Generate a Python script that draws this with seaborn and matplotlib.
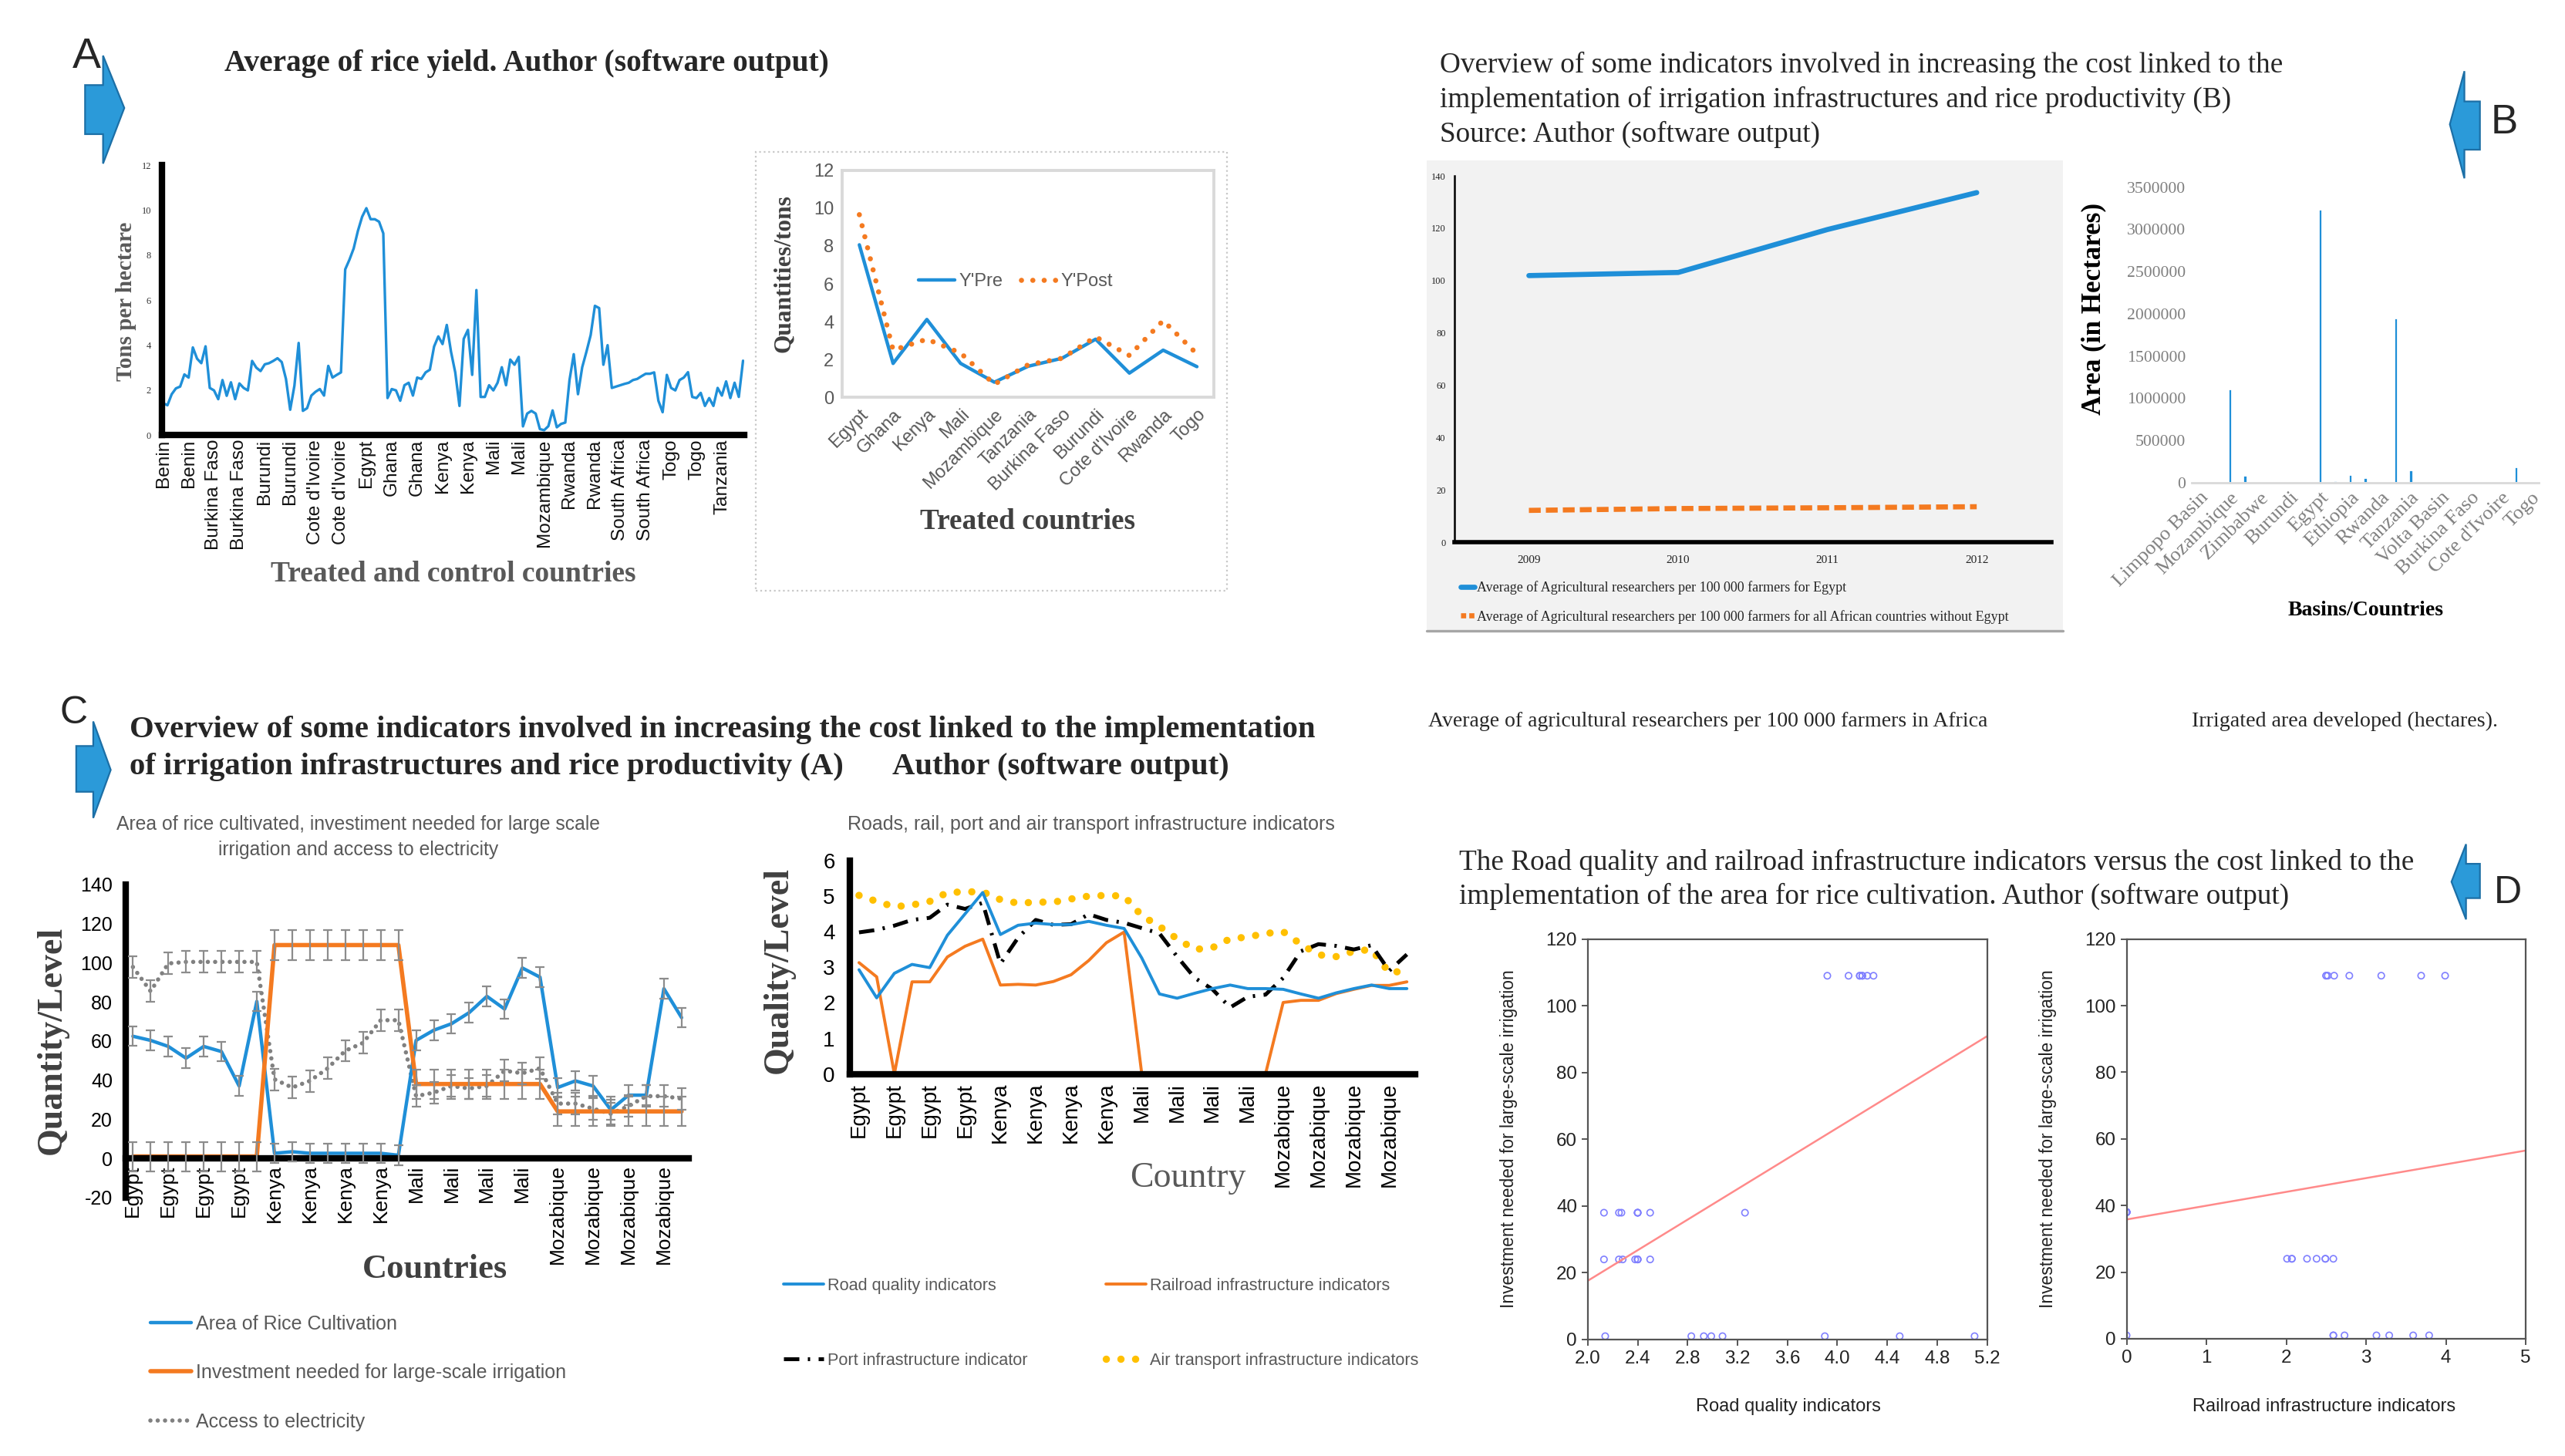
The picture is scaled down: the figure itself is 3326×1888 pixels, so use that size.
import numpy as np
import pandas as pd
import matplotlib
matplotlib.use("Agg")
import matplotlib.pyplot as plt
import seaborn as sns
from matplotlib.patches import Polygon, Rectangle
from matplotlib.lines import Line2D

# ======================= DATA =======================
# Panel A (left): average rice yield, treated and control countries
yield_country_labels = ['Benin', 'Benin', 'Burkina Faso', 'Burkina Faso', 'Burundi', 'Burundi',
                        "Cote d'Ivoire", "Cote d'Ivoire", 'Egypt', 'Ghana', 'Ghana', 'Kenya', 'Kenya',
                        'Mali', 'Mali', 'Mozambique', 'Rwanda', 'Rwanda', 'South Africa', 'South Africa',
                        'Togo', 'Togo', 'Tanzania']
rice_yield = [1.42, 1.33, 1.82, 2.08, 2.16, 2.7, 2.56, 3.9, 3.4, 3.2, 3.95, 2.1, 1.99, 1.6, 2.45,
              1.75, 2.35, 1.6, 2.3, 2.1, 1.99, 3.3, 3.0, 2.85, 3.15, 3.2, 3.3, 3.42, 3.25, 2.5,
              1.13, 2.2, 4.1, 1.08, 1.2, 1.76, 1.93, 2.05, 1.76, 3.08, 2.56, 2.68, 2.79, 7.37, 7.8,
              8.3, 9.08, 9.71, 10.09, 9.6, 9.6, 9.49, 8.97, 1.65, 2.05, 1.99, 1.53, 2.22, 2.33, 1.76,
              2.56, 2.5, 2.79, 2.91, 3.94, 4.39, 4.05, 4.9, 3.71, 2.79, 1.3, 4.28, 4.68, 2.68, 6.45,
              1.7, 1.7, 2.22, 1.99, 2.33, 3.02, 2.22, 3.36, 3.13, 3.48, 0.39, 0.96, 1.08, 0.96, 0.27,
              0.22, 0.4, 1.1, 0.35, 0.5, 0.56, 2.45, 3.6, 1.82, 3.02, 3.71, 4.45, 5.75, 5.65, 3.13,
              4.0, 2.1, 2.16, 2.22, 2.28, 2.33, 2.45, 2.5, 2.62, 2.73, 2.73, 2.79, 1.53, 1.02, 2.68,
              2.1, 1.99, 2.45, 2.56, 2.8, 1.7, 1.65, 1.88, 1.3, 1.65, 1.3, 2.1, 1.76, 2.39, 1.65,
              2.33, 1.7, 3.31]

# Panel A (right): treated countries, pre / post
treated_countries = ['Egypt', 'Ghana', 'Kenya', 'Mali', 'Mozambique', 'Tanzania', 'Burkina Faso',
                     'Burundi', "Cote d'Ivoire", 'Rwanda', 'Togo']
y_pre = [8.06, 1.8, 4.12, 1.8, 0.81, 1.65, 2.07, 3.08, 1.29, 2.5, 1.63]
y_post = [9.65, 2.5, 3.08, 2.35, 0.7, 1.73, 2.07, 3.2, 2.22, 4.06, 2.3]

# Panel B (left): agricultural researchers per 100 000 farmers
years = ['2009', '2010', '2011', '2012']
researchers_egypt = [101.9, 103.1, 119.5, 133.6]
researchers_africa = [12.2, 12.9, 13.2, 13.6]

# Panel B (right): irrigated area developed (hectares)
basin_labels = ['Limpopo Basin', 'Mozambique', 'Zimbabwe', 'Burundi', 'Egypt', 'Ethiopia', 'Rwanda',
                'Tanzania', 'Volta Basin', 'Burkina Faso', "Cote d'Ivoire", 'Togo']
irrigated_area = [0, 0, 1110000, 90000, 0, 0, 15000, 0, 3240000, 25000, 100000, 60000, 0, 1950000,
                  150000, 0, 0, 0, 15000, 0, 0, 190000, 0]

# Panel C (left): area of rice, investment, electricity
c_country_labels = ['Egypt'] * 4 + ['Kenya'] * 4 + ['Mali'] * 4 + ['Mozabique'] * 4
area_rice = [62.4, 60.3, 57.2, 51.2, 57.2, 54.6, 37.0, 80.2, 2.6, 3.4, 2.6, 2.6, 2.6, 2.6, 2.6, 1.6,
             60.3, 65.5, 68.8, 74.5, 82.8, 76.3, 97.3, 92.6, 36.2, 39.6, 37.0, 24.8, 32.3, 32.3, 86.7, 71.9]
investment = [1, 1, 1, 1, 1, 1, 1, 1, 109, 109, 109, 109, 109, 109, 109, 109,
              38, 38, 38, 38, 38, 38, 38, 38, 24, 24, 24, 24, 24, 24, 24, 24]
electricity = [97.8, 85.4, 99.6, 100.4, 100.4, 100.4, 100.4, 100.4, 40.4, 36.2, 39.6, 46.0, 55.0, 59.0,
               70.6, 70.6, 31.8, 33.6, 37.0, 35.7, 37.0, 44.8, 43.5, 46.0, 28.0, 28.0, 25.4, 22.8, 26.7,
               31.8, 31.8, 30.5]
err_area, err_invest, err_elec = 5.0, 7.5, 5.5

# Panel C (right): transport infrastructure indicators
road_quality = [2.93, 2.14, 2.83, 3.08, 2.99, 3.9, 4.5, 5.1, 3.92, 4.18, 4.24, 4.2, 4.2, 4.29, 4.18, 4.09,
                3.26, 2.25, 2.13, 2.27, 2.4, 2.5, 2.4, 2.4, 2.38, 2.25, 2.13, 2.28, 2.4, 2.5, 2.4, 2.4]
railroad = [3.13, 2.73, 0, 2.59, 2.59, 3.29, 3.59, 3.79, 2.5, 2.52, 2.5, 2.6, 2.79, 3.19, 3.69, 3.99,
            0, 0, 0, 0, 0, 0, 0, 0, 2.01, 2.07, 2.07, 2.26, 2.38, 2.49, 2.49, 2.59]
port = [3.98, 4.05, 4.17, 4.33, 4.39, 4.76, 4.64, 4.81, 3.1, 3.83, 4.33, 4.19, 4.21, 4.49, 4.33, 4.25,
        4.1, 3.95, 3.3, 2.7, 2.38, 1.87, 2.17, 2.23, 2.7, 3.45, 3.65, 3.6, 3.5, 3.62, 2.9, 3.36]
air_transport = [5.02, 4.85, 4.7, 4.75, 4.85, 5.1, 5.12, 5.12, 4.9, 4.8, 4.83, 4.83, 4.92, 5.0, 5.02, 5.0,
                 4.45, 4.15, 3.8, 3.5, 3.55, 3.8, 3.85, 3.95, 4.0, 3.65, 3.35, 3.3, 3.45, 3.5, 2.85, 2.9]

# Panel D: fitted lines (intercept, slope)
road_fit = [-28.2, 22.9]
rail_fit = [35.8, 4.14]

# ======================= STYLE =======================
W, H = 1568, 890
BLUE = '#1F8FD8'
ORANGE = '#F47A20'
YELLOW = '#FFC000'
GTXT = '#595959'
SANS = ['Liberation Sans', 'DejaVu Sans']
SERIF = ['Liberation Serif', 'DejaVu Serif']

sns.set_theme(style='white')
plt.rcParams['font.family'] = SERIF
plt.rcParams['axes.linewidth'] = 1.0

fig = plt.figure(figsize=(16.63, 9.44), dpi=200)
fig.patch.set_facecolor('white')


def rect(x0, y0, x1, y1):
    return [x0 / W, 1 - y1 / H, (x1 - x0) / W, (y1 - y0) / H]


def P(x, y):
    return (x / W, 1 - y / H)


def ftext(x, y, s, **kw):
    fig.text(x / W, 1 - y / H, s, **kw)


def arrow(pts):
    fig.add_artist(Polygon([P(x, y) for x, y in pts], closed=True, transform=fig.transFigure,
                           facecolor='#2B9AD9', edgecolor='#1C6FA6', lw=0.8))


def clean(ax):
    ax.set_xlabel('')
    ax.set_ylabel('')
    ax.set_facecolor('none')


# ======================= HEADERS =======================
arrow([(52, 52), (63, 52), (63, 34), (76, 66), (63, 100), (63, 82), (52, 82)])
ftext(53, 35, 'A', fontsize=20, fontfamily=SANS, ha='center', va='center')
ftext(137, 39, 'Average of rice yield. Author (software output)', fontsize=14.2, weight='bold',
      fontfamily=SERIF, va='center')

for i, line in enumerate(['Overview of some indicators involved in increasing the cost linked to the',
                          'implementation of irrigation infrastructures and rice productivity (B)',
                          'Source: Author (software output)']):
    ftext(880, 40 + 21.2 * i, line, fontsize=13.4, fontfamily=SERIF, va='center')
arrow([(1497.6, 76), (1506.5, 43.5), (1506.5, 62), (1516, 62), (1516, 91.5), (1506.5, 91.5), (1506.5, 109)])
ftext(1531, 75, 'B', fontsize=19, fontfamily=SANS, ha='center', va='center')

arrow([(46.6, 456), (57, 456), (57, 441), (67.7, 470.6), (57, 500), (57, 484), (46.6, 484)])
ftext(45, 436, 'C', fontsize=18, fontfamily=SANS, ha='center', va='center')
ftext(79, 446, 'Overview of some indicators involved in increasing the cost linked to the implementation',
      fontsize=14.7, weight='bold', fontfamily=SERIF, va='center')
ftext(79, 469, 'of irrigation infrastructures and rice productivity (A)', fontsize=14.7, weight='bold',
      fontfamily=SERIF, va='center')
ftext(545.6, 469, 'Author (software output)', fontsize=14.7, weight='bold', fontfamily=SERIF, va='center')

ftext(892, 527, 'The Road quality and railroad infrastructure indicators versus the cost linked to the',
      fontsize=13.4, fontfamily=SERIF, va='center')
ftext(892, 548, 'implementation of the area for rice cultivation. Author (software output)',
      fontsize=13.4, fontfamily=SERIF, va='center')
arrow([(1498.6, 539), (1507.5, 516), (1507.5, 528), (1516, 528), (1516, 549), (1507.5, 549), (1507.5, 562)])
ftext(1533, 546, 'D', fontsize=18, fontfamily=SANS, ha='center', va='center')

ftext(873, 441, 'Average of agricultural researchers per 100 000 farmers in Africa', fontsize=10,
      fontfamily=SERIF, va='center')
ftext(1340, 441, 'Irrigated area developed (hectares).', fontsize=10.1, fontfamily=SERIF, va='center')

# ======================= PANEL A LEFT =======================
axA = fig.add_axes(rect(99, 101, 455, 266))
dfA = pd.DataFrame({'obs': np.arange(len(rice_yield)), 'yield': rice_yield})
sns.lineplot(data=dfA, x='obs', y='yield', ax=axA, color=BLUE, lw=1.2)
clean(axA)
axA.set_xlim(-0.3, len(rice_yield) - 0.7)
axA.set_ylim(0, 12)
axA.set_yticks(range(0, 13, 2), labels=[str(v) for v in range(0, 13, 2)], fontsize=4.5,
               fontfamily=SERIF, color='#333333')
axA.set_xticks(np.arange(len(yield_country_labels)) * 6, labels=yield_country_labels, rotation=90,
               fontsize=8.8, fontfamily=SANS, color='#111111')
axA.tick_params(length=0, pad=2)
axA.tick_params(axis='y', pad=5)
for s in ['top', 'right']:
    axA.spines[s].set_visible(False)
for s in ['left', 'bottom']:
    axA.spines[s].set_linewidth(3)
    axA.spines[s].set_color('black')
ftext(77, 184, 'Tons per hectare', rotation=90, ha='center', va='center', fontsize=10.5, weight='bold',
      color=GTXT, fontfamily=SERIF)
ftext(277, 351, 'Treated and control countries', ha='center', va='center', fontsize=13.5, weight='bold',
      color=GTXT, fontfamily=SERIF)

# ======================= PANEL A RIGHT =======================
fig.add_artist(Rectangle(P(462, 361), (750 - 462) / W, (361 - 93) / H, transform=fig.transFigure,
                         facecolor='none', edgecolor='#c8c8c8', lw=0.8, ls=':'))
axAr = fig.add_axes(rect(515, 104, 742, 243))
dfAr = pd.DataFrame({'pos': np.arange(len(treated_countries)), 'pre': y_pre, 'post': y_post})
sns.lineplot(data=dfAr, x='pos', y='pre', ax=axAr, color=BLUE, lw=1.6)
sns.lineplot(data=dfAr, x='pos', y='post', ax=axAr, color=ORANGE, lw=2.4,
             linestyle=(0, (0.01, 2.2)), dash_capstyle='round')
clean(axAr)
axAr.set_xlim(-0.5, len(treated_countries) - 0.5)
axAr.set_ylim(0, 12)
axAr.set_yticks(range(0, 13, 2), labels=[str(v) for v in range(0, 13, 2)], fontsize=8.5,
                fontfamily=SANS, color=GTXT)
axAr.set_xticks(np.arange(len(treated_countries)), labels=treated_countries, rotation=45, ha='right',
                rotation_mode='anchor', fontsize=8.5, fontfamily=SANS, color=GTXT)
axAr.tick_params(length=0, pad=4)
for s in axAr.spines.values():
    s.set_color('#d9d9d9')
    s.set_linewidth(1.4)
hA = [Line2D([], [], color=BLUE, lw=1.6),
      Line2D([], [], color=ORANGE, lw=2.4, linestyle=(0, (0.01, 2.2)), dash_capstyle='round')]
axAr.legend(hA, ["Y'Pre", "Y'Post"], loc='center', bbox_to_anchor=P(621, 172), bbox_transform=fig.transFigure,
            ncol=2, frameon=False, prop={'family': SANS, 'size': 8.5}, labelcolor=GTXT, handlelength=2.0,
            handletextpad=0.2, columnspacing=1.0, borderpad=0, borderaxespad=0)
ftext(479, 167, 'Quantities/tons', rotation=90, ha='center', va='center', fontsize=11.3, weight='bold',
      color='#404040', fontfamily=SERIF)
ftext(628, 319, 'Treated countries', ha='center', va='center', fontsize=13.4, weight='bold',
      color='#404040', fontfamily=SERIF)

# ======================= PANEL B LEFT =======================
fig.add_artist(Rectangle(P(872, 385), (1261 - 872) / W, (385 - 98) / H, transform=fig.transFigure,
                         facecolor='#F2F2F2', edgecolor='none', zorder=0))
fig.add_artist(Line2D([872 / W, 1261 / W], [1 - 385.5 / H, 1 - 385.5 / H], transform=fig.transFigure,
                      color='#a6a6a6', lw=1.2))
axBl = fig.add_axes(rect(889, 107.5, 1254, 331.5))
dfBl = pd.DataFrame({'pos': np.arange(len(years)), 'egypt': researchers_egypt, 'africa': researchers_africa})
sns.lineplot(data=dfBl, x='pos', y='egypt', ax=axBl, color=BLUE, lw=2.4)
sns.lineplot(data=dfBl, x='pos', y='africa', ax=axBl, color=ORANGE, lw=2.4, linestyle=(0, (2.3, 1.0)))
clean(axBl)
axBl.set_xlim(-0.5, len(years) - 0.5)
axBl.set_ylim(0, 140)
axBl.set_yticks(range(0, 141, 20), labels=[str(v) for v in range(0, 141, 20)], fontsize=4.5,
                fontfamily=SERIF, color='#222222')
axBl.set_xticks(np.arange(len(years)), labels=years, fontsize=5.5, fontfamily=SERIF, color='#222222')
axBl.tick_params(length=0, pad=6)
axBl.tick_params(axis='y', pad=4)
for s in ['top', 'right']:
    axBl.spines[s].set_visible(False)
axBl.spines['left'].set_linewidth(0.9)
axBl.spines['left'].set_color('black')
axBl.spines['bottom'].set_linewidth(2.0)
axBl.spines['bottom'].set_color('black')
hB = [Line2D([], [], color=BLUE, lw=2.4), Line2D([], [], color=ORANGE, lw=2.4, linestyle=(0, (1.0, 0.6)))]
axBl.legend(hB, ['Average of Agricultural researchers per 100 000 farmers for Egypt',
                 'Average of Agricultural researchers per 100 000 farmers for all African countries without Egypt'],
            loc='upper left', bbox_to_anchor=P(893, 355), bbox_transform=fig.transFigure, frameon=False,
            prop={'family': SERIF, 'size': 6.5}, handlelength=1.0, handletextpad=0.15, labelspacing=1.1,
            borderpad=0, borderaxespad=0)

# ======================= PANEL B RIGHT =======================
axBr = fig.add_axes(rect(1340, 114.4, 1552, 295))
dfBr = pd.DataFrame({'pos': np.arange(len(irrigated_area)), 'area': irrigated_area})
sns.barplot(data=dfBr, x='pos', y='area', ax=axBr, native_scale=True, width=0.28, color=BLUE,
            saturation=1, errorbar=None)
clean(axBr)
axBr.set_xlim(-0.5, len(irrigated_area) - 0.5)
axBr.set_ylim(0, 3500000)
yt = list(range(0, 3500001, 500000))
axBr.set_yticks(yt, labels=[str(v) for v in yt], fontsize=7.8, fontfamily=SERIF, color='#7f7f7f')
axBr.set_xticks(np.arange(0, len(irrigated_area), 2), labels=basin_labels, rotation=45, ha='right',
                rotation_mode='anchor', fontsize=9.5, fontfamily=SERIF, color='#7f7f7f')
axBr.tick_params(length=0, pad=3)
for s in ['top', 'right', 'left']:
    axBr.spines[s].set_visible(False)
axBr.spines['bottom'].set_color('#d9d9d9')
axBr.spines['bottom'].set_linewidth(1.0)
ftext(1280, 189, 'Area (in Hectares)', rotation=90, ha='center', va='center', fontsize=12.6,
      weight='bold', color='black', fontfamily=SERIF)
ftext(1446, 373, 'Basins/Countries', ha='center', va='center', fontsize=10, weight='bold',
      color='black', fontfamily=SERIF)

# ======================= PANEL C LEFT =======================
ftext(219, 504, 'Area of rice cultivated, investiment needed for large scale', ha='center', va='center',
      fontsize=8.9, fontfamily=SANS, color=GTXT)
ftext(219, 519.5, 'irrigation and access to electricity', ha='center', va='center', fontsize=8.9,
      fontfamily=SANS, color=GTXT)
axC = fig.add_axes(rect(76.7, 540.6, 421, 732))
axC.spines['bottom'].set_position(('data', 0))
posC = np.arange(len(area_rice))
dfC = pd.DataFrame({'pos': posC, 'area': area_rice, 'inv': investment, 'elec': electricity})
sns.lineplot(data=dfC, x='pos', y='elec', ax=axC, color='#808080', lw=2.0, linestyle=(0, (0.01, 1.7)),
             dash_capstyle='round')
sns.lineplot(data=dfC, x='pos', y='area', ax=axC, color=BLUE, lw=1.6)
sns.lineplot(data=dfC, x='pos', y='inv', ax=axC, color=ORANGE, lw=2.0)
for vals, err in [(electricity, err_elec), (area_rice, err_area), (investment, err_invest)]:
    axC.errorbar(posC, vals, yerr=err, fmt='none', ecolor='#8c8c8c', elinewidth=0.8, capsize=2.2,
                 capthick=0.8, zorder=3)
clean(axC)
axC.set_xlim(-0.42, 31.4)
axC.set_ylim(-20, 140)
axC.set_yticks(range(-20, 141, 20), labels=[str(v) for v in range(-20, 141, 20)], fontsize=9,
               fontfamily=SANS, color='black')
axC.set_xticks(np.arange(0, len(area_rice), 2), labels=c_country_labels, rotation=90, fontsize=9.5,
               fontfamily=SANS, color='black')
axC.tick_params(length=0, pad=3)
axC.tick_params(axis='y', pad=6)
for s in ['top', 'right']:
    axC.spines[s].set_visible(False)
for s in ['left', 'bottom']:
    axC.spines[s].set_linewidth(3)
    axC.spines[s].set_color('black')
ftext(32, 636, 'Quantity/Level', rotation=90, ha='center', va='center', fontsize=16.5, weight='bold',
      color='#404040', fontfamily=SERIF)
ftext(266, 776, 'Countries', ha='center', va='center', fontsize=16, weight='bold', color='#404040',
      fontfamily=SERIF)
hC = [Line2D([], [], color=BLUE, lw=1.6), Line2D([], [], color=ORANGE, lw=2.0),
      Line2D([], [], color='#808080', lw=2.0, linestyle=(0, (0.01, 1.7)), dash_capstyle='round')]
axC.legend(hC, ['Area of Rice Cultivation', 'Investment needed for large-scale irrigation',
                'Access to electricity'],
           loc='upper left', bbox_to_anchor=P(92, 803.5), bbox_transform=fig.transFigure, frameon=False,
           prop={'family': SANS, 'size': 9}, labelcolor=GTXT, handlelength=2.1, handletextpad=0.25,
           labelspacing=1.58, borderpad=0, borderaxespad=0)

# ======================= PANEL C RIGHT =======================
ftext(667, 504, 'Roads, rail, port and air transport infrastructure indicators', ha='center', va='center',
      fontsize=9, fontfamily=SANS, color=GTXT)
axCm = fig.add_axes(rect(519.5, 526, 865, 656.5))
posM = np.arange(len(road_quality))
dfM = pd.DataFrame({'pos': posM, 'road': road_quality, 'rail': railroad, 'port': port, 'air': air_transport})
port_ls = (0, (4.0, 2.2, 0.6, 2.2))
air_ls = (0, (0.01, 2.0))
sns.lineplot(data=dfM, x='pos', y='air', ax=axCm, color=YELLOW, lw=3.4, linestyle=air_ls,
             dash_capstyle='round')
sns.lineplot(data=dfM, x='pos', y='port', ax=axCm, color='black', lw=1.8, linestyle=port_ls)
sns.lineplot(data=dfM, x='pos', y='rail', ax=axCm, color=ORANGE, lw=1.4)
sns.lineplot(data=dfM, x='pos', y='road', ax=axCm, color=BLUE, lw=1.4)
clean(axCm)
axCm.set_xlim(-0.52, 31.46)
axCm.set_ylim(0, 6)
axCm.set_yticks(range(0, 7), labels=[str(v) for v in range(0, 7)], fontsize=10, fontfamily=SANS,
                color='black')
axCm.set_xticks(np.arange(0, len(road_quality), 2), labels=c_country_labels, rotation=90, fontsize=10,
                fontfamily=SANS, color='black')
axCm.tick_params(length=0, pad=4)
axCm.tick_params(axis='y', pad=7)
for s in ['top', 'right']:
    axCm.spines[s].set_visible(False)
for s in ['left', 'bottom']:
    axCm.spines[s].set_linewidth(3)
    axCm.spines[s].set_color('black')
ftext(476, 593, 'Quality/Level', rotation=90, ha='center', va='center', fontsize=16.5, weight='bold',
      color='#404040', fontfamily=SERIF)
ftext(726, 720, 'Country', ha='center', va='center', fontsize=16.5, color=GTXT, fontfamily=SERIF)
leg1 = axCm.legend([Line2D([], [], color=BLUE, lw=1.4), Line2D([], [], color='black', lw=1.8, linestyle=port_ls)],
                   ['Road quality indicators', 'Port infrastructure indicator'],
                   loc='upper left', bbox_to_anchor=P(479, 781), bbox_transform=fig.transFigure, frameon=False,
                   prop={'family': SANS, 'size': 7.8}, labelcolor=GTXT, handlelength=2.4, handletextpad=0.25,
                   labelspacing=3.5, borderpad=0, borderaxespad=0)
axCm.add_artist(leg1)
axCm.legend([Line2D([], [], color=ORANGE, lw=1.4),
             Line2D([], [], color=YELLOW, lw=3.4, linestyle=air_ls, dash_capstyle='round')],
            ['Railroad infrastructure indicators', 'Air transport infrastructure indicators'],
            loc='upper left', bbox_to_anchor=P(676, 781), bbox_transform=fig.transFigure, frameon=False,
            prop={'family': SANS, 'size': 7.8}, labelcolor=GTXT, handlelength=2.4, handletextpad=0.25,
            labelspacing=3.5, borderpad=0, borderaxespad=0)

# ======================= PANEL D =======================
dfD = pd.DataFrame({'road': road_quality, 'rail': railroad, 'inv': investment})
for box, xcol, fit, xlim, xt, xlab, ycx, xlx in [
        ((970.6, 574, 1214.7, 818.8), 'road', road_fit, (2.0, 5.2), np.arange(2.0, 5.21, 0.4),
         'Road quality indicators', 922.6, 1093),
        ((1300, 574, 1544, 818.3), 'rail', rail_fit, (0, 5), np.arange(0, 6, 1),
         'Railroad infrastructure indicators', 1252, 1420.6)]:
    ax = fig.add_axes(rect(*box))
    sns.scatterplot(data=dfD, x=xcol, y='inv', ax=ax, s=9, marker='o')
    pts = ax.collections[-1]
    pts.set_facecolor('none')
    pts.set_edgecolor('#8080FF')
    pts.set_linewidth(0.6)
    xs = np.array(xlim, dtype=float)
    ax.plot(xs, fit[0] + fit[1] * xs, color='#FF8A8A', lw=0.9)
    clean(ax)
    ax.set_xlim(*xlim)
    ax.set_ylim(0, 120)
    if xcol == 'road':
        ax.set_xticks(xt, labels=[f'{v:.1f}' for v in xt], fontsize=8.7, fontfamily=SANS, color='#222222')
    else:
        ax.set_xticks(xt, labels=[str(int(v)) for v in xt], fontsize=8.7, fontfamily=SANS, color='#222222')
    ax.set_yticks(range(0, 121, 20), labels=[str(v) for v in range(0, 121, 20)], fontsize=8.7,
                  fontfamily=SANS, color='#222222')
    ax.tick_params(direction='out', length=3, width=0.7, color='#555555', pad=2, bottom=True, left=True)
    for s in ax.spines.values():
        s.set_color('#555555')
        s.set_linewidth(0.8)
    ftext(ycx, 696, 'Investment needed for large-scale irrigation', rotation=90, ha='center', va='center',
          fontsize=8.2, fontfamily=SANS, color='#222222')
    ftext(xlx, 860, xlab, ha='center', va='center', fontsize=8.5, fontfamily=SANS, color='#222222')

fig.savefig('out.png', dpi=200, facecolor='white')
